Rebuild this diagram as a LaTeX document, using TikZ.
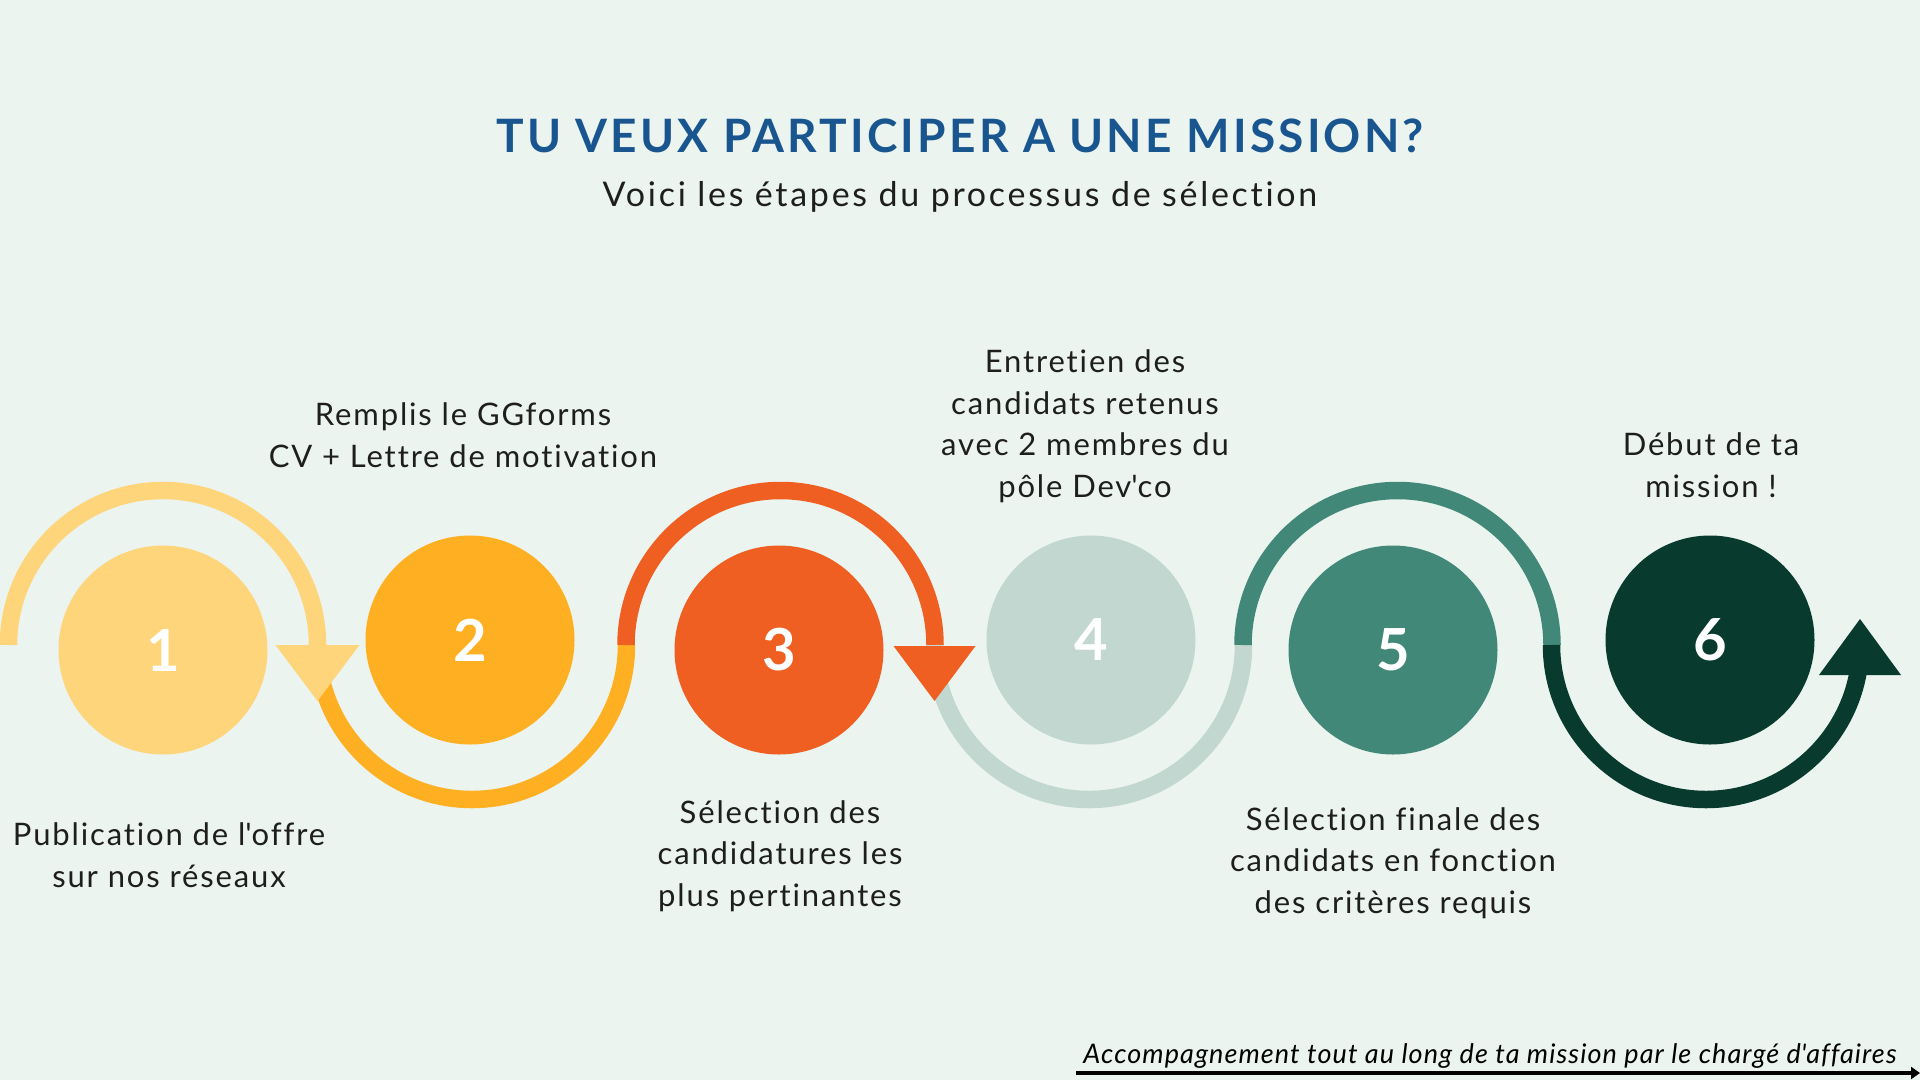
\documentclass[tikz,border=0pt]{standalone}
\usepackage{fontspec}
\setmainfont{Lato}
\newfontfamily\bodyfont[LetterSpace=6,Ligatures=NoCommon]{Lato}
\newfontfamily\titlefont[LetterSpace=7]{Lato}
\newfontfamily\subfont[LetterSpace=8,Ligatures=NoCommon]{Lato}
\newfontfamily\notefont[LetterSpace=4,Ligatures=NoCommon]{Lato}
\usetikzlibrary{arrows.meta,calc}
\definecolor{bg}{HTML}{EBF4EF}
\definecolor{cA}{HTML}{FFD57B}
\definecolor{cB}{HTML}{FFAF22}
\definecolor{cC}{HTML}{EE5F21}
\definecolor{cD}{HTML}{C1D7CF}
\definecolor{cE}{HTML}{418878}
\definecolor{cF}{HTML}{083B2E}
\definecolor{ttl}{HTML}{19568F}
\definecolor{txt}{HTML}{1E1E1E}
\begin{document}
\begin{tikzpicture}[x=1pt,y=1pt,
  band/.style={line width=17.5pt, line cap=butt},
  stepnum/.style={circle, inner sep=0pt, minimum size=209pt, text=white,
    font=\fontsize{58}{60}\selectfont\bfseries},
  lbl/.style={align=center, text=txt, inner sep=0pt,
    font=\bodyfont\fontsize{31}{41.5}\selectfont}]
\useasboundingbox (0,0) rectangle (1920,-1080);
\fill[bg] (0,0) rectangle (1920,-1080);

% title
\node[anchor=base, text=ttl, inner sep=0pt, font=\titlefont\fontsize{46}{50}\selectfont\bfseries]
  (title) at (960,-152) {TU VEUX PARTICIPER A UNE MISSION?};
\node[anchor=base, text=txt, inner sep=0pt, font=\subfont\fontsize{34}{38}\selectfont]
  (sub) at (960,-206) {Voici les étapes du processus de sélection};

% arc end points
\coordinate (p0) at (8.5,-645);
\coordinate (p1) at (317.5,-645);
\coordinate (p2) at (626,-645);
\coordinate (p3) at (934.5,-645);
\coordinate (p4) at (1243,-645);
\coordinate (p5) at (1551.5,-645);
\coordinate (p6) at (1860,-645);

\draw[band, cA] (p0) arc[start angle=180, end angle=0, radius=154.5];
\draw[band, cB] (p1) arc[start angle=180, end angle=360, radius=154.5];
\draw[band, cC] (p2) arc[start angle=180, end angle=0, radius=154.5];
\draw[band, cD] (p3) arc[start angle=180, end angle=360, radius=154.5];
\draw[band, cE] (p4) arc[start angle=180, end angle=0, radius=154.5];
\draw[band, cF] (p5) arc[start angle=180, end angle=360, radius=154.5];

% arrow heads
\fill[cA] ($(p1)+(-42,0)$) -- ($(p1)+(42,0)$) -- ($(p1)+(0,-56)$) -- cycle;
\fill[cC] ($(p3)+(-41,-1)$) -- ($(p3)+(41,-1)$) -- ($(p3)+(0,-56)$) -- cycle;
\fill[cF] ($(p6)+(-41,-30)$) -- ($(p6)+(41,-30)$) -- ($(p6)+(0,26)$) -- cycle;

% circles
\node[stepnum, fill=cA] (n1) at (163,-650) {1};
\node[stepnum, fill=cB] (n2) at (470,-640) {2};
\node[stepnum, fill=cC] (n3) at (779,-650) {3};
\node[stepnum, fill=cD] (n4) at (1091,-640) {4};
\node[stepnum, fill=cE] (n5) at (1393,-650) {5};
\node[stepnum, fill=cF] (n6) at (1710,-640) {6};

% labels
\node[lbl] (t1) at (169,-855) {Publication de l\textquotesingle offre\\sur nos réseaux};
\node[lbl] (t2) at (463,-435) {Remplis le GGforms\\CV + Lettre de motivation};
\node[lbl] (t3) at (780,-856) {Sélection des\\candidatures les\\plus pertinantes};
\node[lbl] (t4) at (1085,-426) {Entretien des\\candidats retenus\\avec 2 membres du\\pôle Dev\textquotesingle co};
\node[lbl] (t5) at (1393,-863) {Sélection finale des\\candidats en fonction\\des critères requis};
\node[lbl] (t6) at (1711,-465) {Début de ta\\mission !};

% bottom note
\node[anchor=base, inner sep=0pt, text=black, font=\notefont\fontsize{27}{30}\selectfont\itshape]
  (acc) at (1490,-1063) {Accompagnement tout au long de ta mission par le chargé d\textquotesingle affaires};
\coordinate (a0) at (1076,-1073);
\coordinate (a1) at (1920,-1073);
\draw[line width=4pt, -{Triangle[length=9pt,width=12pt]}] (a0) -- (a1);
\end{tikzpicture}
\end{document}
